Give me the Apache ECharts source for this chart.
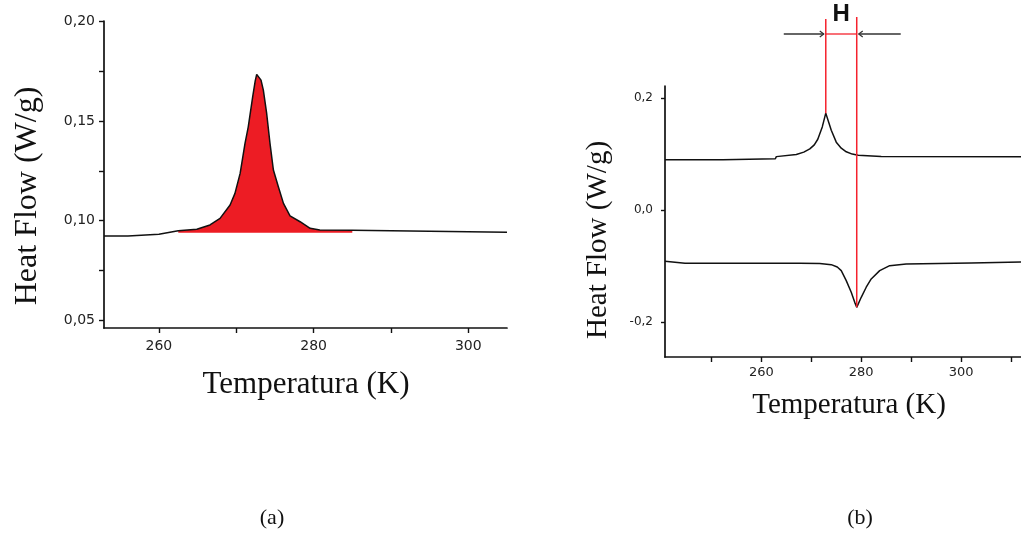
<!DOCTYPE html>
<html>
<head>
<meta charset="utf-8">
<script src="https://cdn.jsdelivr.net/npm/echarts@6/dist/echarts.min.js"></script>
<style>html,body{margin:0;padding:0;background:#fff}#c{width:1021px;height:536px}</style>
</head>
<body>
<div id="c"></div>
<script>
// ---- (a) data ----
const tempA = [252.9, 256.0, 256.1, 260.0, 260.2, 262.5, 264.9, 266.6, 267.9, 269.2, 269.83, 270.5, 271.13, 271.55, 272.12, 272.45, 272.64, 272.85, 273.2, 273.5, 273.93, 274.36, 274.8, 275.44, 276.1, 276.95, 278.25, 279.55, 280.8, 285.0, 285.1, 305.0];
const flowA = [0.0923, 0.0923, 0.0932, 0.0932, 0.0942, 0.0950, 0.0957, 0.0979, 0.1012, 0.1079, 0.1137, 0.1237, 0.1387, 0.1470, 0.1620, 0.1700, 0.1733, 0.1725, 0.1704, 0.1654, 0.1537, 0.1387, 0.1254, 0.1170, 0.1087, 0.1024, 0.0995, 0.0962, 0.0954, 0.0952, 0.0942, 0.0942];
const fillRangeA = [262.5, 285.0];
const fillBaseA = 0.094;
const xTicksA = [260, 270, 280, 290, 300];
const xLabelsA = [260, 280, 300];
const yTicksA = [0.05, 0.075, 0.1, 0.125, 0.15, 0.175, 0.2];
const yLabelsA = [0.05, 0.1, 0.15, 0.2];

// ---- (b) data ----
const tempB1 = [240.7, 252.3, 252.5, 262.8, 263.0, 267.0, 268.5, 269.7, 270.6, 271.3, 272.2, 272.9, 273.5, 274.0, 275.0, 276.0, 277.0, 278.2, 279.4, 284.0, 312.0];
const flowB1 = [0.0893, 0.0893, 0.0911, 0.0911, 0.0950, 0.0988, 0.1030, 0.1089, 0.1160, 0.1260, 0.1480, 0.1726, 0.1560, 0.1420, 0.1208, 0.1100, 0.1036, 0.0995, 0.0976, 0.0950, 0.0946];
const tempB2 = [240.7, 244.7, 267.7, 271.7, 274.0, 275.2, 276.0, 277.0, 278.0, 278.7, 279.1, 280.0, 281.0, 282.0, 283.7, 285.7, 289.0, 302.0, 302.2, 312.0];
const flowB2 = [-0.0918, -0.0952, -0.0953, -0.0955, -0.0977, -0.1020, -0.1084, -0.1262, -0.1470, -0.1650, -0.1739, -0.1560, -0.1380, -0.1232, -0.1084, -0.0995, -0.0964, -0.0946, -0.0928, -0.0928];
const xTicksB = [250, 260, 270, 280, 290, 300, 310];
const xLabelsB = [260, 280, 300];
const yTicksB = [-0.2, 0, 0.2];
const yMinorTicksB = [-0.1, 0.1];
const yLabelsB = [-0.2, 0, 0.2];

// ---- texts ----
const yTitle = 'Heat Flow (W/g)';
const xTitle = 'Temperatura (K)';
const captions = ['(a)', '(b)'];
const markLabel = 'H';

const pairs = (xs, ys) => xs.map((x, i) => [x, ys[i]]);
const fillA = pairs(tempA, flowA).filter(p => p[0] >= fillRangeA[0] && p[0] <= fillRangeA[1]);

const AX = '#111';
const LBL = '#222';
const serif = '"Liberation Serif", "Times New Roman", serif';
const sans = '"DejaVu Sans", sans-serif';
const comma = d => v => v.toFixed(d).replace('.', ',');

function xAxisCfg(grid, min, max, ticks, labels, fs, margin) {
  return {
    type: 'value', gridIndex: grid, min, max,
    axisLine: { show: true, onZero: false, lineStyle: { color: AX, width: 1.7 } },
    axisTick: { show: true, length: 5, customValues: ticks, lineStyle: { color: AX, width: 1.4 } },
    axisLabel: { customValues: labels, color: LBL, fontFamily: sans, fontSize: fs, margin, formatter: v => String(v) },
    splitLine: { show: false }
  };
}
function yAxisCfg(grid, min, max, ticks, labels, fs, margin, dec, len) {
  return {
    type: 'value', gridIndex: grid, min, max,
    axisLine: { show: true, onZero: false, lineStyle: { color: AX, width: 1.7 } },
    axisTick: { show: true, length: len, customValues: ticks, lineStyle: { color: AX, width: 1.4 } },
    axisLabel: { customValues: labels, color: LBL, fontFamily: sans, fontSize: fs, margin, formatter: comma(dec) },
    splitLine: { show: false }
  };
}

const chart = echarts.init(document.getElementById('c'), null, { renderer: 'canvas' });
const lineStyle = { color: '#111', width: 1.5 };
chart.setOption({
  animation: false,
  backgroundColor: '#fff',
  grid: [
    { left: 104, top: 21, width: 403, height: 307 },
    { left: 665, top: 86, width: 356, height: 271 }
  ],
  xAxis: [
    xAxisCfg(0, 252.9, 305, xTicksA, xLabelsA, 14, 11),
    xAxisCfg(1, 240.7, 312, xTicksB, xLabelsB, 13, 9)
  ],
  yAxis: [
    yAxisCfg(0, 0.0463, 0.2, yTicksA, yLabelsA, 14, 9, 2, 5),
    yAxisCfg(1, -0.2625, 0.221, yTicksB, yLabelsB, 12, 12, 1, 4),
    {
      type: 'value', gridIndex: 1, min: -0.2625, max: 0.221,
      axisLine: { show: false }, axisLabel: { show: false }, splitLine: { show: false },
      axisTick: { show: true, length: 2, customValues: yMinorTicksB, lineStyle: { color: AX, width: 1.4 } }
    }
  ],
  series: [
    { type: 'line', xAxisIndex: 0, yAxisIndex: 0, data: fillA, symbol: 'none', z: 1,
      lineStyle: { width: 0, opacity: 0 }, areaStyle: { color: '#ed1c24', opacity: 1, origin: fillBaseA } },
    { type: 'line', xAxisIndex: 0, yAxisIndex: 0, data: pairs(tempA, flowA), symbol: 'none', z: 3, lineStyle },
    { type: 'line', xAxisIndex: 1, yAxisIndex: 1, data: pairs(tempB1, flowB1), symbol: 'none', z: 3, lineStyle },
    { type: 'line', xAxisIndex: 1, yAxisIndex: 1, data: pairs(tempB2, flowB2), symbol: 'none', z: 3, lineStyle }
  ]
});

// annotation positions derived from the data through the axes
const iMax = flowB1.indexOf(Math.max(...flowB1));
const iMin = flowB2.indexOf(Math.min(...flowB2));
const pTop = chart.convertToPixel({ gridIndex: 1 }, [tempB1[iMax], flowB1[iMax]]);
const pBot = chart.convertToPixel({ gridIndex: 1 }, [tempB2[iMin], flowB2[iMin]]);
const xl = pTop[0], xr = pBot[0];
const RED = '#f5222d';
const barY = 34;

function txt(x, y, text, font, rot) {
  return { type: 'text', x, y, rotation: rot || 0, z: 10,
    style: { text, font, fill: '#111', textAlign: 'center', textVerticalAlign: 'middle', align: 'center', verticalAlign: 'middle' } };
}
chart.setOption({
  graphic: [
    txt(28, 196, yTitle, '32px ' + serif, Math.PI / 2),
    txt(306, 385, xTitle, '31px ' + serif),
    txt(598, 240, yTitle, '29px ' + serif, Math.PI / 2),
    txt(849, 405, xTitle, '29px ' + serif),
    txt(272, 518, captions[0], '22px ' + serif),
    txt(860, 518, captions[1], '22px ' + serif),
    txt((xl + xr) / 2, 14, markLabel, 'bold 24px "Liberation Sans", Arial, sans-serif'),
    { type: 'line', z: 9, shape: { x1: xl, y1: 19, x2: xl, y2: pTop[1] }, style: { stroke: RED, lineWidth: 1.5 } },
    { type: 'line', z: 9, shape: { x1: xr, y1: 17, x2: xr, y2: pBot[1] }, style: { stroke: RED, lineWidth: 1.5 } },
    { type: 'line', z: 9, shape: { x1: xl, y1: barY, x2: xr, y2: barY }, style: { stroke: RED, lineWidth: 1.3 } },
    { type: 'line', z: 9, shape: { x1: xl - 42, y1: barY, x2: xl - 2, y2: barY }, style: { stroke: '#333', lineWidth: 1.6 } },
    { type: 'polyline', z: 9, shape: { points: [[xl - 6, barY - 3], [xl - 2, barY], [xl - 6, barY + 3]] }, style: { stroke: '#333', lineWidth: 1.2, fill: null } },
    { type: 'line', z: 9, shape: { x1: xr + 2, y1: barY, x2: xr + 44, y2: barY }, style: { stroke: '#333', lineWidth: 1.6 } },
    { type: 'polyline', z: 9, shape: { points: [[xr + 6, barY - 3], [xr + 2, barY], [xr + 6, barY + 3]] }, style: { stroke: '#333', lineWidth: 1.2, fill: null } }
  ]
});
</script>
</body>
</html>
